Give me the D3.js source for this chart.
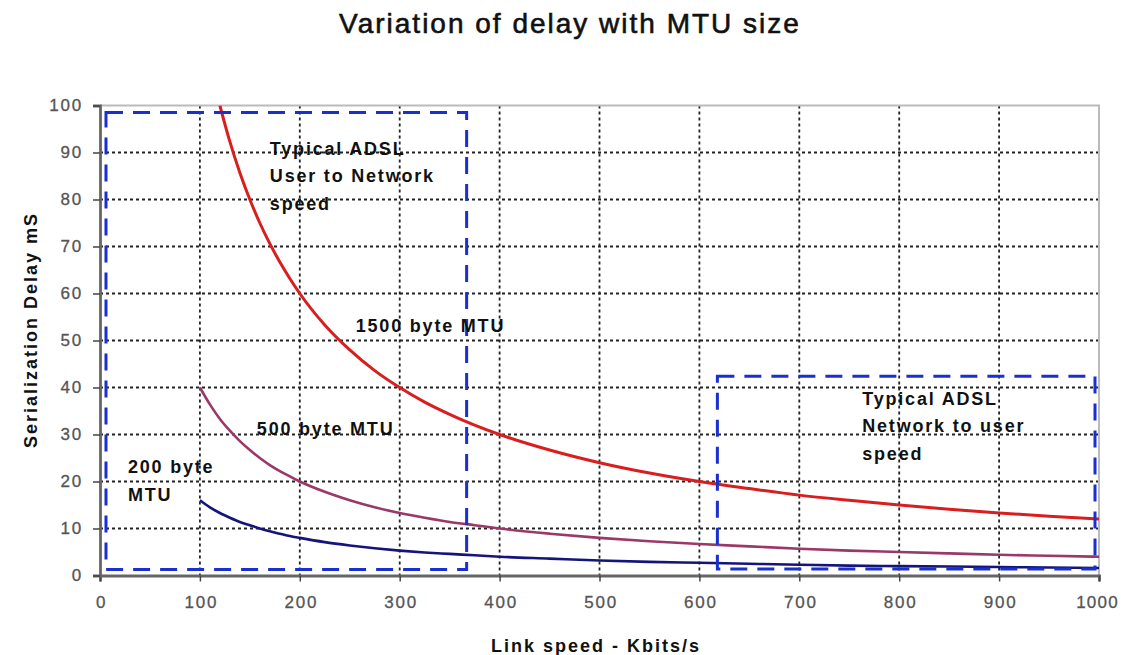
<!DOCTYPE html>
<html><head><meta charset="utf-8">
<script src="https://cdn.jsdelivr.net/npm/d3@7"></script>
<style>
html,body{margin:0;padding:0;background:#fff;}
svg{display:block;font-family:Arial,"Liberation Sans",sans-serif;}
</style></head>
<body><svg id="chart" width="1122" height="655"></svg>
<script>
// ---- data ----
const title = "Variation of delay with MTU size";
const xTitle = "Link speed - Kbits/s";
const yTitle = "Serialization Delay mS";
const xTicks = [0,100,200,300,400,500,600,700,800,900,1000];
const yTicks = [0,10,20,30,40,50,60,70,80,90,100];

const speeds1500 = [120,130,140,150,160,170,180,190,200,225,250,275,300,325,350,375,400,450,500,550,600,650,700,750,800,850,900,950,1000];
const delay1500  = [100,92.3,85.7,80,75,70.6,66.7,63.2,60,53.3,48,43.6,40,36.9,34.3,32,30,26.7,24,21.8,20,18.5,17.1,16,15,14.1,13.3,12.6,12];
const speedsLow  = [100,110,120,130,140,150,160,170,180,190,200,225,250,275,300,325,350,375,400,450,500,550,600,650,700,750,800,850,900,950,1000];
const delay500   = [40,36.4,33.3,30.8,28.6,26.7,25,23.5,22.2,21.1,20,17.8,16,14.5,13.3,12.3,11.4,10.7,10,8.9,8,7.3,6.7,6.2,5.7,5.3,5,4.7,4.4,4.2,4];
const delay200   = [16,14.5,13.3,12.3,11.4,10.7,10,9.4,8.9,8.4,8,7.1,6.4,5.8,5.3,4.9,4.6,4.3,4,3.6,3.2,2.9,2.7,2.5,2.3,2.1,2,1.9,1.8,1.7,1.6];

// dashed boxes: [x0, x1, y0, y1] in data units
const boxUser = [6, 367, 1.3, 98.5];
const boxNet  = [618, 996, 1.4, 42.4];

// annotations: lines, data position of first baseline
const notes = [
  {lines:["Typical ADSL","User to Network","speed"], x:170, y:89.5},
  {lines:["Typical ADSL","Network to user","speed"], x:763, y:36.3},
  {lines:["1500 byte MTU"], x:256, y:51.8},
  {lines:["500 byte MTU"], x:157, y:29.9},
  {lines:["200 byte","MTU"], x:28, y:21.8}
];

// ---- layout ----
const svg = d3.select("#chart");
const x = d3.scaleLinear().domain([0,1000]).range([100,1099]);
const y = d3.scaleLinear().domain([0,100]).range([575.5,105.5]);

svg.append("defs").append("clipPath").attr("id","clip")
  .append("rect").attr("x",100).attr("y",105.5).attr("width",999).attr("height",470);

// title
svg.append("text").attr("x",570).attr("y",33).attr("text-anchor","middle")
  .attr("font-size",28).attr("letter-spacing",2).attr("fill","#111")
  .attr("stroke","#111").attr("stroke-width",0.6).text(title);

// grid
const grid = svg.append("g").attr("stroke","#222").attr("stroke-width",1.8).attr("stroke-dasharray","3,3");
grid.selectAll("line.v").data(xTicks.filter(d=>d>0&&d<1000)).join("line")
  .attr("x1",d=>x(d)).attr("x2",d=>x(d)).attr("y1",y(100)).attr("y2",y(0));
grid.selectAll("line.h").data(yTicks.filter(d=>d>0&&d<100)).join("line")
  .attr("x1",x(0)).attr("x2",x(1000)).attr("y1",d=>y(d)).attr("y2",d=>y(d));

// border (top/right)
svg.append("path").attr("d",`M${x(0)},${y(100)}H${x(1000)}V${y(0)}`)
  .attr("fill","none").attr("stroke","#bbb").attr("stroke-width",2);

// axes
const xAxis = svg.append("g").attr("transform",`translate(0,${y(0)})`)
  .call(d3.axisBottom(x).tickValues(xTicks).tickFormat(d3.format("d")).tickSize(6).tickPadding(14));
const yAxis = svg.append("g").attr("transform",`translate(${x(0)},0)`)
  .call(d3.axisLeft(y).tickValues(yTicks).tickFormat(d3.format("d")).tickSize(7).tickPadding(10));
[xAxis,yAxis].forEach(g=>{
  g.select(".domain").attr("stroke","#666").attr("stroke-width",2.8);
  g.selectAll(".tick line").attr("stroke","#444").attr("stroke-width",1.5);
  g.selectAll(".tick text").attr("font-size",17).attr("letter-spacing",1.8)
    .attr("fill","#555").attr("stroke","#555").attr("stroke-width",0.3)
    .attr("font-family","Arial,'Liberation Sans',sans-serif");
});
xAxis.selectAll(".tick text").attr("dx",1);
xAxis.selectAll(".tick text").filter(d=>d===1000).attr("dx",-2).attr("letter-spacing",1.2);

// axis titles
svg.append("text").attr("x",596).attr("y",652).attr("text-anchor","middle")
  .attr("font-size",18).attr("font-weight","bold").attr("letter-spacing",2).attr("fill","#111").text(xTitle);
svg.append("text").attr("transform","translate(37,330) rotate(-90)").attr("text-anchor","middle")
  .attr("font-size",18).attr("font-weight","bold").attr("letter-spacing",2).attr("fill","#111").text(yTitle);

// series
const line = d3.line().x(d=>x(d[0])).y(d=>y(d[1])).curve(d3.curveMonotoneX);
const series = [
  {xs:speedsLow, ys:delay200, color:"#14147a", w:2.6},
  {xs:speedsLow, ys:delay500, color:"#9a3868", w:2.6},
  {xs:speeds1500, ys:delay1500, color:"#d81e1e", w:3}
];
const plot = svg.append("g").attr("clip-path","url(#clip)");
series.forEach(s=>{
  plot.append("path").datum(s.xs.map((v,i)=>[v,s.ys[i]]))
    .attr("d",line).attr("fill","none").attr("stroke",s.color).attr("stroke-width",s.w);
});

// dashed boxes
[boxUser, boxNet].forEach(b=>{
  svg.append("rect").attr("x",x(b[0])).attr("y",y(b[3]))
    .attr("width",x(b[1])-x(b[0])).attr("height",y(b[2])-y(b[3]))
    .attr("fill","none").attr("stroke","#1a2fd0").attr("stroke-width",3)
    .attr("stroke-dasharray","17,10");
});

// annotations
notes.forEach(n=>{
  const t = svg.append("text").attr("font-size",18).attr("font-weight","bold")
    .attr("letter-spacing",1.8).attr("fill","#111");
  n.lines.forEach((l,i)=>{
    t.append("tspan").attr("x",x(n.x)).attr("y",y(n.y)+i*27.5).text(l);
  });
});
</script></body></html>
